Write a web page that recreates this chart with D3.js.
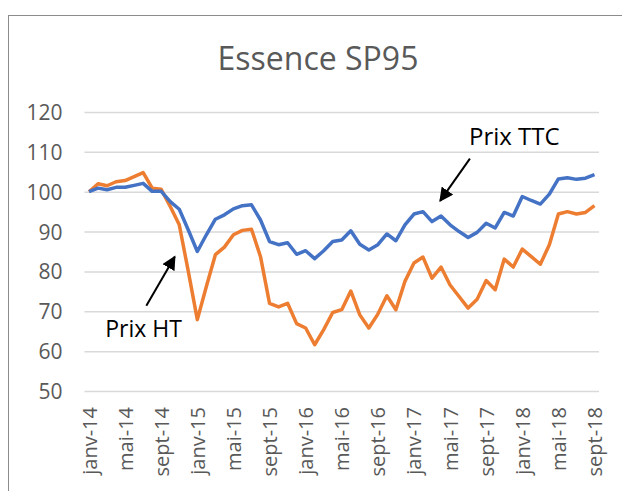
<!DOCTYPE html>
<html>
<head>
<meta charset="utf-8">
<script src="https://cdn.jsdelivr.net/npm/d3@7"></script>
<style>
  body { margin: 0; background: #fff; }
  text { font-family: "Open Sans", sans-serif; }
</style>
</head>
<body>
<div id="container"></div>
<script>
const monthNames = ["janv", "févr", "mars", "avr", "mai", "juin", "juil", "août", "sept", "oct", "nov", "déc"];
const years = ["14", "15", "16", "17", "18"];
const months = [];
years.forEach(yy => monthNames.forEach(m => months.push(`${m}-${yy}`)));
months.splice(57); // janv-14 .. sept-18

const prixTTC = [100.0, 100.9, 100.5, 101.1, 101.1, 101.6, 102.1, 100.1, 100.1, 97.5,
  95.6, 90.4, 85.0, 89.2, 93.1, 94.2, 95.7, 96.5, 96.7, 92.9,
  87.5, 86.7, 87.2, 84.3, 85.2, 83.2, 85.2, 87.5, 87.9, 90.2,
  86.8, 85.4, 86.7, 89.4, 87.7, 91.7, 94.4, 95.0, 92.5, 93.9,
  91.7, 90.0, 88.5, 89.8, 92.1, 90.9, 94.8, 93.9, 98.8, 97.8,
  96.9, 99.4, 103.2, 103.5, 103.1, 103.4, 104.3];
const prixHT = [100.0, 102.0, 101.5, 102.5, 102.8, 103.8, 104.8, 100.9, 100.6, 96.3,
  91.7, 80.0, 67.9, 76.2, 84.2, 86.1, 89.2, 90.3, 90.6, 83.7,
  72.0, 71.1, 72.0, 66.9, 65.8, 61.6, 65.4, 69.7, 70.4, 75.1,
  69.1, 65.8, 69.3, 73.9, 70.4, 77.5, 82.1, 83.6, 78.3, 81.1,
  76.6, 73.7, 70.8, 73.0, 77.7, 75.4, 83.1, 81.1, 85.6, 83.7,
  81.8, 86.7, 94.4, 95.0, 94.4, 94.8, 96.5];
const yTicks = [50, 60, 70, 80, 90, 100, 110, 120];
const title = "Essence SP95";

// annotations in data coordinates (month index, value)
const notes = [
  { label: "Prix TTC", text: [42.1, 111.6], tail: [42.2, 108.3], tip: [38.9, 97.7], size: 24 },
  { label: "Prix HT", text: [1.8, 63.6], tail: [6.35, 71.4], tip: [9.5, 83.7], size: 23 }
];

const width = 622, height = 491;
const plotLeft = 84.5, plotRight = 599, plotTop = 112, plotBottom = 391;

const svg = d3.select("#container").append("svg")
  .attr("width", width)
  .attr("height", height);

svg.append("rect")
  .attr("x", 8.5).attr("y", 15.5)
  .attr("width", 700).attr("height", 600)
  .attr("fill", "none")
  .attr("stroke", "#8c8c8c")
  .attr("stroke-width", 1);

const x = d3.scalePoint().domain(months).range([plotLeft, plotRight]).padding(0.5);
const xi = d3.scaleLinear().domain([0, months.length - 1]).range([x(months[0]), x(months[months.length - 1])]);
const y = d3.scaleLinear().domain([50, 120]).range([plotBottom, plotTop]);

// gridlines + y labels
const yAxis = svg.append("g")
  .attr("transform", `translate(${plotLeft},0)`)
  .call(d3.axisLeft(y).tickValues(yTicks).tickSize(-(plotRight - plotLeft)).tickPadding(22));
yAxis.select(".domain").remove();
yAxis.selectAll("line").attr("stroke", "#d9d9d9").attr("stroke-width", 1.5);
yAxis.selectAll("text")
  .attr("fill", "#595959")
  .attr("font-size", 21)
  .attr("font-family", "Open Sans")
  .attr("dy", "0.36em");

// x labels every 4 months
const xAxis = svg.append("g")
  .attr("transform", `translate(0,${plotBottom})`)
  .call(d3.axisBottom(x).tickValues(months.filter((d, i) => i % 4 === 0)).tickSize(0));
xAxis.select(".domain").remove();
xAxis.selectAll("text")
  .attr("fill", "#595959")
  .attr("font-size", 20)
  .attr("font-family", "Open Sans")
  .attr("text-anchor", "end")
  .attr("y", 0)
  .attr("dy", "0.35em")
  .attr("transform", "translate(0,16) rotate(-90)");

// title
svg.append("text")
  .text(title)
  .attr("x", 318)
  .attr("y", 70)
  .attr("text-anchor", "middle")
  .attr("font-size", 32)
  .attr("fill", "#595959");

const line = d3.line()
  .x((d, i) => x(months[i]))
  .y(d => y(d));

svg.append("path")
  .datum(prixHT)
  .attr("d", line)
  .attr("fill", "none")
  .attr("stroke", "#ED7D31")
  .attr("stroke-width", 3.5)
  .attr("stroke-linejoin", "round");

svg.append("path")
  .datum(prixTTC)
  .attr("d", line)
  .attr("fill", "none")
  .attr("stroke", "#4472C4")
  .attr("stroke-width", 3.5)
  .attr("stroke-linejoin", "round");

// arrows
svg.append("defs").append("marker")
  .attr("id", "head")
  .attr("viewBox", "0 0 10 10")
  .attr("refX", 9).attr("refY", 5)
  .attr("markerWidth", 7).attr("markerHeight", 7)
  .attr("markerUnits", "strokeWidth")
  .attr("orient", "auto")
  .append("path")
  .attr("d", "M0,0 L10,5 L0,10 z")
  .attr("fill", "#000");

const noteG = svg.selectAll(".note").data(notes).enter().append("g").attr("class", "note");
noteG.append("line")
  .attr("x1", d => xi(d.tail[0])).attr("y1", d => y(d.tail[1]))
  .attr("x2", d => xi(d.tip[0])).attr("y2", d => y(d.tip[1]))
  .attr("stroke", "#000")
  .attr("stroke-width", 2)
  .attr("marker-end", "url(#head)");
noteG.append("text")
  .text(d => d.label)
  .attr("x", d => xi(d.text[0]))
  .attr("y", d => y(d.text[1]))
  .attr("font-size", d => d.size)
  .attr("fill", "#000");
</script>
</body>
</html>
